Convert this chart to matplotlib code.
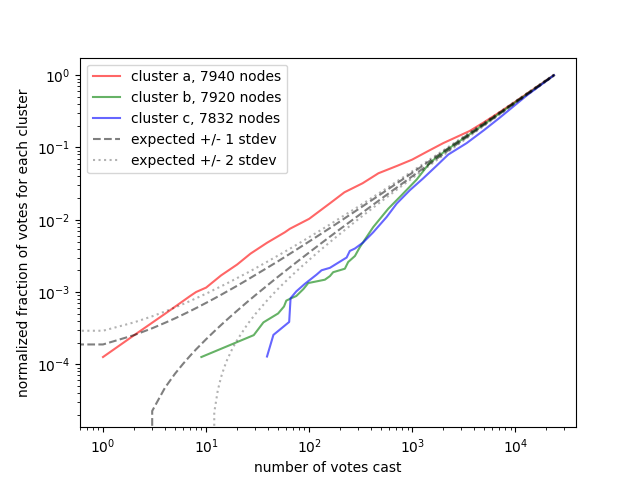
import matplotlib

matplotlib.use("Agg")
import matplotlib.pyplot as plt

# cumulative votes for each cluster, normalized by final count
red_x = [1, 2, 4, 7, 8, 10, 14, 20, 27, 39, 58, 65, 100, 160, 220, 330, 470,
         720, 1000, 1400, 2000, 3600, 4900, 6600, 10000, 15000, 23692]
red_y = [1.26e-4, 2.52e-4, 5.0e-4, 8.8e-4, 1.0e-3, 1.15e-3, 1.7e-3, 2.4e-3,
         3.4e-3, 4.8e-3, 6.7e-3, 7.5e-3, 1.03e-2, 1.70e-2, 2.40e-2, 3.2e-2,
         4.4e-2, 5.6e-2, 6.8e-2, 8.8e-2, 0.115, 0.169, 0.221, 0.29, 0.43, 0.64, 1.0]

green_x = [9, 29, 36, 50, 57, 60, 67, 75, 88, 98, 142, 159, 171, 222, 239, 278,
           311, 418, 585, 789, 1104, 1486, 2240, 3500, 5500, 9000, 15000, 23692]
green_y = [1.26e-4, 2.53e-4, 3.8e-4, 5.05e-4, 6.3e-4, 7.6e-4, 8.2e-4, 8.8e-4,
           1.1e-3, 1.33e-3, 1.48e-3, 1.66e-3, 1.88e-3, 2.1e-3, 2.6e-3, 3.15e-3,
           4.2e-3, 7.9e-3, 1.42e-2, 2.19e-2, 3.6e-2, 6.2e-2, 9.6e-2, 0.148, 0.232,
           0.38, 0.63, 1.0]

blue_x = [39, 45, 64, 66, 75, 91, 118, 132, 159, 191, 231, 248, 278, 334, 418,
          564, 706, 950, 1280, 1725, 2240, 3375, 5000, 7100, 12900, 23692]
blue_y = [1.28e-4, 2.55e-4, 3.85e-4, 8.2e-4, 1.02e-3, 1.3e-3, 1.74e-3, 2.0e-3,
          2.16e-3, 2.54e-3, 3.0e-3, 3.7e-3, 4.0e-3, 4.85e-3, 6.7e-3, 1.09e-2,
          1.67e-2, 2.57e-2, 3.75e-2, 5.6e-2, 0.080, 0.115, 0.175, 0.26, 0.524, 1.0]

# expected band, zeros fall below the axis
exp_x = [0, 1, 2, 3, 4, 5, 6, 7, 8, 10, 11, 12, 13, 14, 15, 16, 18, 20, 25, 30,
         40, 50, 65, 80, 120, 160, 200, 300, 500, 800, 1200, 2000, 3000, 5000,
         8000, 12000, 18000, 23692]
exp_hi1 = [1.15e-4, 1.88e-4, 2.53e-4, 3.15e-4, 3.75e-4, 4.32e-4, 4.89e-4, 5.44e-4,
           5.99e-4, 7.07e-4, 7.60e-4, 8.12e-4, 8.65e-4, 9.16e-4, 9.68e-4, 1.02e-3,
           1.12e-3, 1.22e-3, 1.47e-3, 1.72e-3, 2.20e-3, 2.67e-3, 3.38e-3, 4.08e-3,
           5.91e-3, 7.72e-3, 9.52e-3, 0.0140, 0.0228, 0.0359, 0.0532, 0.0877,
           0.131, 0.216, 0.344, 0.515, 0.770, 1.011]
exp_hi2 = [1.88e-4, 2.91e-4, 3.80e-4, 4.61e-4, 5.38e-4, 6.11e-4, 6.82e-4, 7.51e-4,
           8.19e-4, 9.49e-4, 1.01e-3, 1.08e-3, 1.14e-3, 1.20e-3, 1.26e-3, 1.32e-3,
           1.44e-3, 1.56e-3, 1.84e-3, 2.12e-3, 2.67e-3, 3.20e-3, 3.97e-3, 4.73e-3,
           6.72e-3, 8.65e-3, 0.0106, 0.0152, 0.0244, 0.0380, 0.0558, 0.0910,
           0.135, 0.221, 0.351, 0.523, 0.780, 1.023]
exp_lo1 = [0, 0, 0, 2.26e-5, 4.76e-5, 7.42e-5, 1.02e-4, 1.31e-4, 1.61e-4, 2.22e-4,
           2.53e-4, 2.85e-4, 3.17e-4, 3.50e-4, 3.83e-4, 4.16e-4, 4.83e-4, 5.51e-4,
           7.25e-4, 9.01e-4, 1.26e-3, 1.63e-3, 2.19e-3, 2.76e-3, 4.30e-3, 5.87e-3,
           7.45e-3, 0.0114, 0.0195, 0.0317, 0.0482, 0.0812, 0.123, 0.206, 0.331,
           0.499, 0.750, 0.989]
exp_lo2 = [0, 0, 0, 0, 0, 0, 0, 0, 0, 0, 0, 2.15e-5, 4.39e-5, 6.69e-5, 9.04e-5,
           1.15e-4, 1.65e-4, 2.16e-4, 3.52e-4, 4.94e-4, 7.94e-4, 1.11e-3, 1.60e-3,
           2.10e-3, 3.50e-3, 4.94e-3, 6.41e-3, 0.0102, 0.0179, 0.0297, 0.0456,
           0.0779, 0.119, 0.201, 0.325, 0.491, 0.740, 0.978]

labels = ["cluster a, 7940 nodes", "cluster b, 7920 nodes", "cluster c, 7832 nodes"]

fig, ax = plt.subplots(figsize=(6.4, 4.8), dpi=100)
ax.set_xscale("log", nonpositive="clip")
ax.set_yscale("log", nonpositive="clip")

ax.plot(red_x, red_y, "r-", alpha=0.6, label=labels[0])
ax.plot(green_x, green_y, "g-", alpha=0.6, label=labels[1])
ax.plot(blue_x, blue_y, "b-", alpha=0.6, label=labels[2])
ax.plot(exp_x, exp_hi1, "k--", alpha=0.5, label="expected +/- 1 stdev")
ax.plot(exp_x, exp_lo1, "k--", alpha=0.5)
ax.plot(exp_x, exp_hi2, "k:", alpha=0.3, label="expected +/- 2 stdev")
ax.plot(exp_x, exp_lo2, "k:", alpha=0.3)

ax.set_xlim(0.598, 38800)
ax.set_ylim(1.346e-5, 1.754)
ax.set_xlabel("number of votes cast")
ax.set_ylabel("normalized fraction of votes for each cluster")
ax.legend(loc="upper left")

plt.savefig("out.png")
